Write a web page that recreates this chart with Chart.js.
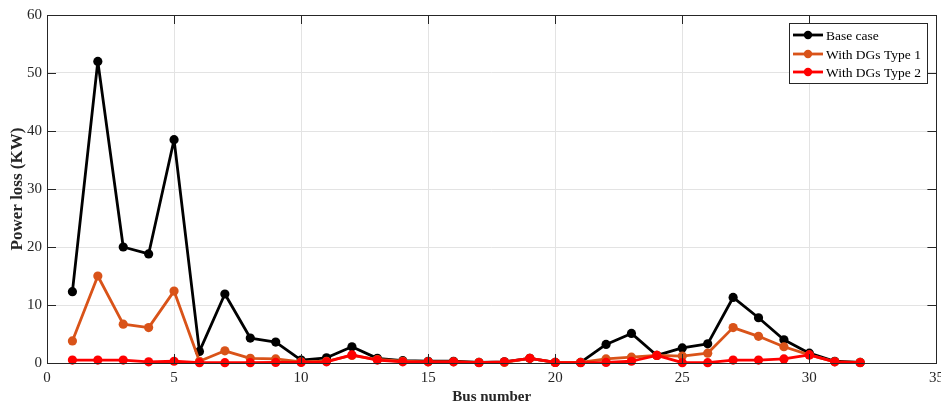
<!DOCTYPE html>
<html>
<head>
<meta charset="utf-8">
<script src="https://cdn.jsdelivr.net/npm/chart.js@4/dist/chart.umd.min.js"></script>
<style>
  html, body { margin: 0; padding: 0; background: #fff; }
  #wrap { width: 941px; height: 407px; position: relative; }
</style>
</head>
<body>
<div id="wrap"><canvas id="chart"></canvas></div>
<script>
// Power loss per bus
const buses = [1, 2, 3, 4, 5, 6, 7, 8, 9, 10, 11, 12, 13, 14, 15, 16,
  17, 18, 19, 20, 21, 22, 23, 24, 25, 26, 27, 28, 29, 30, 31, 32];

const baseCase = [12.3, 52.0, 20.0, 18.8, 38.5, 2.0, 11.9, 4.3, 3.6, 0.5, 0.9, 2.8,
  0.8, 0.4, 0.3, 0.3, 0.1, 0.2, 0.8, 0.1, 0.1, 3.2, 5.1, 1.3, 2.6, 3.3,
  11.3, 7.8, 4.0, 1.7, 0.3, 0.1];

const dgType1 = [3.8, 15.0, 6.7, 6.1, 12.4, 0.3, 2.1, 0.8, 0.7, 0.2, 0.3, 1.3,
  0.6, 0.3, 0.2, 0.2, 0.1, 0.1, 0.8, 0.1, 0.1, 0.7, 1.0, 1.3, 1.2, 1.7,
  6.1, 4.6, 2.8, 1.4, 0.2, 0.1];

const dgType2 = [0.5, 0.5, 0.5, 0.2, 0.3, 0.05, 0.05, 0.05, 0.1, 0.1, 0.2, 1.4,
  0.5, 0.2, 0.2, 0.2, 0.05, 0.2, 0.8, 0.1, 0.05, 0.1, 0.3, 1.3, 0.05, 0.05,
  0.5, 0.5, 0.7, 1.4, 0.2, 0.05];

const seriesNames = ['Base case', 'With DGs Type 1', 'With DGs Type 2'];
const seriesColors = ['#000000', '#D95319', '#FF0000'];

const xTicks = [0, 5, 10, 15, 20, 25, 30, 35];
const yTicks = [0, 10, 20, 30, 40, 50, 60];

const AXIS_COLOR = '#262626';
const GRID_COLOR = '#e3e3e3';
const FONT = '"Liberation Serif", "Times New Roman", serif';

function toPoints(values) {
  return buses.map((b, i) => ({ x: b, y: values[i] }));
}

const allSeries = [baseCase, dgType1, dgType2];

const datasets = allSeries.map((vals, i) => ({
  label: seriesNames[i],
  data: toPoints(vals),
  borderColor: seriesColors[i],
  backgroundColor: seriesColors[i],
  borderWidth: 2.8,
  borderJoinStyle: 'round',
  borderCapStyle: 'round',
  pointRadius: 4.6,
  pointHoverRadius: 4.6,
  pointBorderWidth: 0,
  tension: 0,
  clip: false,
  order: allSeries.length - i,
}));

// box, inward ticks (matlab style)
const frameTicks = {
  id: 'frameTicks',
  afterDatasetsDraw(chart) {
    const { ctx, chartArea: a, scales } = chart;
    const len = 9;
    ctx.save();
    ctx.strokeStyle = AXIS_COLOR;
    ctx.lineWidth = 1;
    ctx.beginPath();
    xTicks.forEach((t) => {
      const px = Math.round(scales.x.getPixelForValue(t)) + 0.5;
      ctx.moveTo(px, a.bottom);
      ctx.lineTo(px, a.bottom - len);
      ctx.moveTo(px, a.top);
      ctx.lineTo(px, a.top + len);
    });
    yTicks.forEach((t) => {
      const py = Math.round(scales.y.getPixelForValue(t)) + 0.5;
      ctx.moveTo(a.left, py);
      ctx.lineTo(a.left + len, py);
      ctx.moveTo(a.right, py);
      ctx.lineTo(a.right - len, py);
    });
    ctx.stroke();
    ctx.strokeRect(Math.round(a.left) + 0.5, Math.round(a.top) + 0.5,
      Math.round(a.right - a.left), Math.round(a.bottom - a.top));
    ctx.restore();
  },
};

// legend box in the top right corner
const cornerLegend = {
  id: 'cornerLegend',
  afterDraw(chart) {
    const { ctx } = chart;
    const box = { x: 789, y: 23, w: 138, h: 60 };
    const rows = [35, 54, 72];
    ctx.save();
    ctx.fillStyle = '#fff';
    ctx.fillRect(box.x, box.y, box.w, box.h);
    ctx.strokeStyle = AXIS_COLOR;
    ctx.lineWidth = 1;
    ctx.strokeRect(box.x + 0.5, box.y + 0.5, box.w, box.h);
    ctx.font = '13.5px ' + FONT;
    ctx.textBaseline = 'middle';
    seriesNames.forEach((name, i) => {
      const y = rows[i];
      ctx.strokeStyle = seriesColors[i];
      ctx.fillStyle = seriesColors[i];
      ctx.lineWidth = 2.8;
      ctx.beginPath();
      ctx.moveTo(793, y);
      ctx.lineTo(823, y);
      ctx.stroke();
      ctx.beginPath();
      ctx.arc(808, y, 4.2, 0, Math.PI * 2);
      ctx.fill();
      ctx.fillStyle = '#000';
      ctx.fillText(name, 826, y + 1);
    });
    ctx.restore();
  },
};

new Chart(document.getElementById('chart'), {
  type: 'line',
  data: { datasets },
  plugins: [frameTicks, cornerLegend],
  options: {
    responsive: true,
    maintainAspectRatio: false,
    animation: false,
    layout: { padding: { left: 0, right: 4, top: 15, bottom: 0 } },
    plugins: {
      legend: { display: false },
      tooltip: { enabled: false },
    },
    scales: {
      x: {
        type: 'linear',
        min: 0,
        max: 35,
        afterFit: (s) => { s.height = 44; s.paddingLeft = 0; s.paddingRight = 0; },
        afterBuildTicks: (s) => { s.ticks = xTicks.map((v) => ({ value: v })); },
        ticks: {
          color: AXIS_COLOR,
          padding: 6,
          maxRotation: 0,
          font: { family: FONT, size: 15 },
        },
        grid: { color: GRID_COLOR, drawTicks: false },
        border: { display: false },
        title: {
          display: true,
          text: 'Bus number',
          color: AXIS_COLOR,
          padding: { top: 0, bottom: 1 },
          font: { family: FONT, size: 15, weight: 'bold' },
        },
      },
      y: {
        min: 0,
        max: 60,
        afterFit: (s) => { s.width = 47; s.paddingTop = 0; s.paddingBottom = 0; },
        afterBuildTicks: (s) => { s.ticks = yTicks.map((v) => ({ value: v })); },
        ticks: {
          color: AXIS_COLOR,
          padding: 5,
          font: { family: FONT, size: 15 },
        },
        grid: { color: GRID_COLOR, drawTicks: false },
        border: { display: false },
        title: {
          display: true,
          text: 'Power loss (KW)',
          color: AXIS_COLOR,
          padding: { top: 7, bottom: 0 },
          font: { family: FONT, size: 17, weight: 'bold' },
        },
      },
    },
  },
});
</script>
</body>
</html>
